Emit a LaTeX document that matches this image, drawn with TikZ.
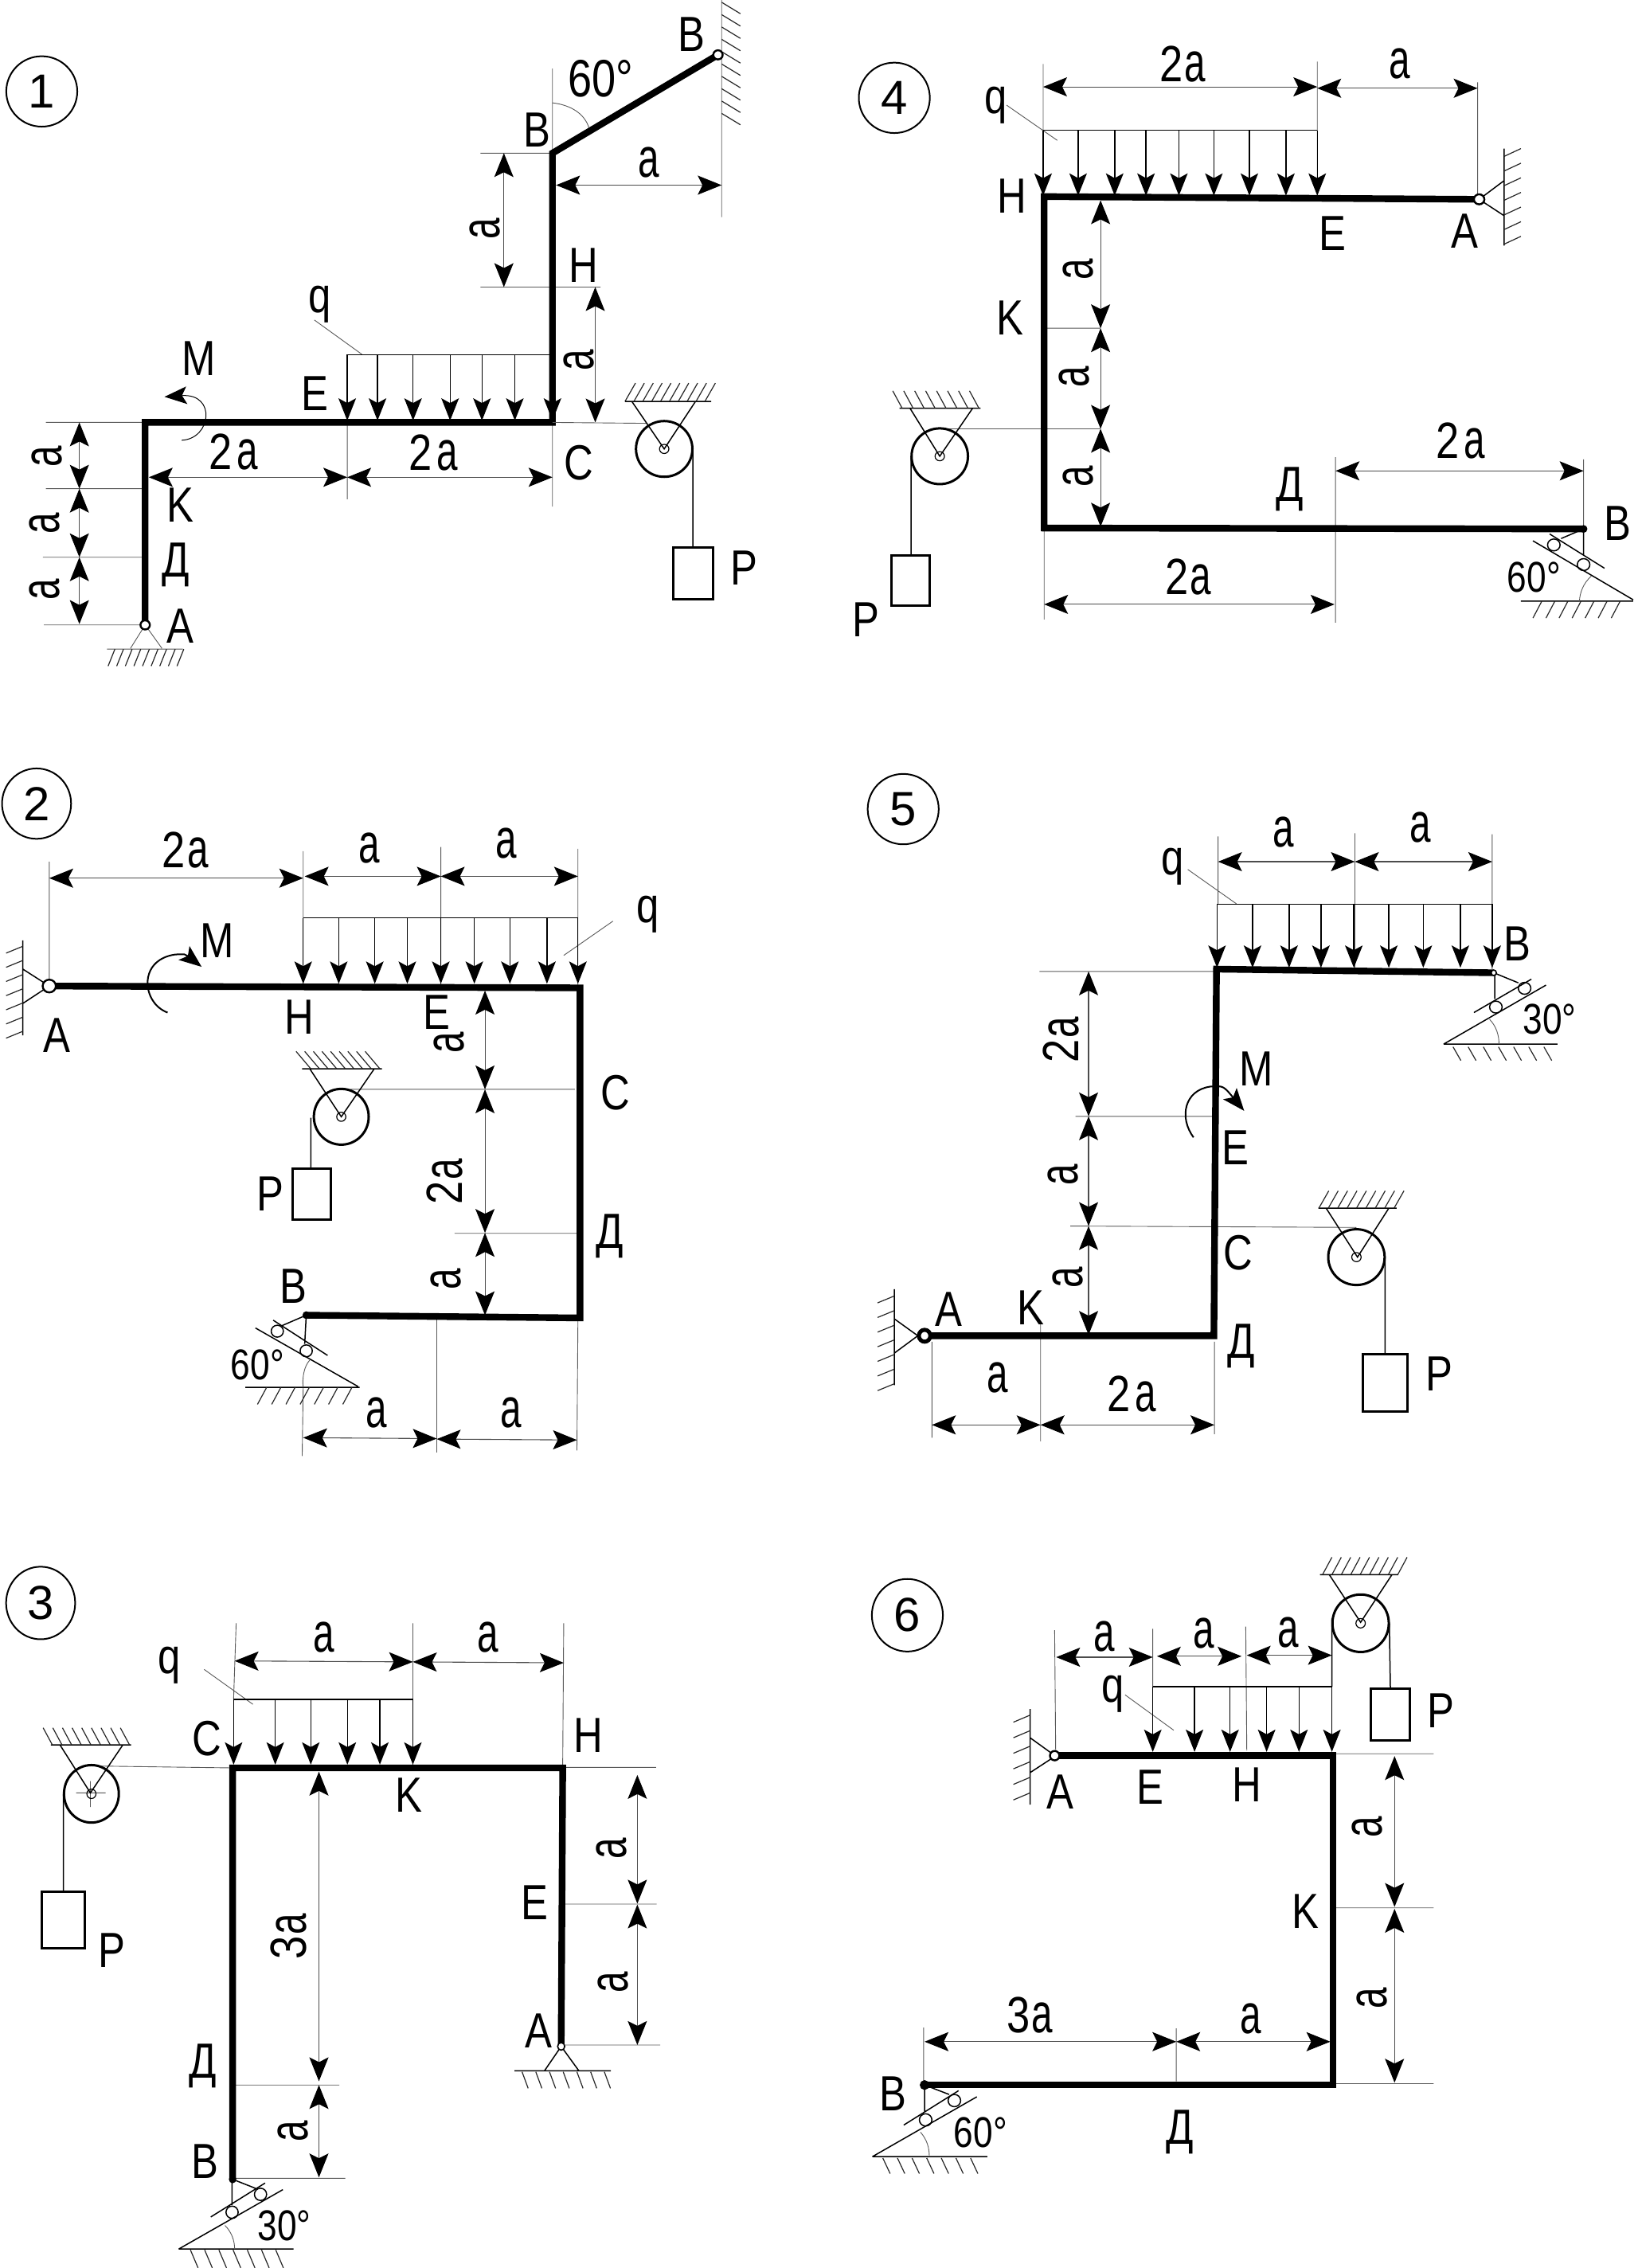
\documentclass[tikz,border=0pt]{standalone}
\usepackage{fontspec}
\usetikzlibrary{arrows.meta}
\setmainfont{Liberation Sans}
\newfontfamily\gost[FakeStretch=0.82]{Liberation Sans}
\newfontfamily\gosta[FakeStretch=0.68]{Liberation Sans}
\newcounter{lbl}
\tikzset{
  beam/.style={line width=4.2pt,black,miter limit=4},
  thinl/.style={line width=0.45pt,black!65},
  hatch/.style={line width=0.6pt,black!85},
  med/.style={line width=0.75pt,black},
  dimm/.style={line width=0.55pt,black!70,{Stealth[length=15pt,width=12pt,inset=3pt,black]}-{Stealth[length=15pt,width=12pt,inset=3pt,black]}},
  loadarr/.style={line width=0.7pt,black,-{Stealth[length=14pt,width=11pt,inset=3pt]}},
  lab/.style={inner sep=0pt,font=\gost\fontsize{31}{31}\selectfont},
  alab/.style={inner sep=0pt,font=\gosta\fontsize{35}{35}\selectfont},
  deg/.style={inner sep=0pt,font=\gost\fontsize{27}{27}\selectfont},
  degb/.style={inner sep=0pt,font=\gost\fontsize{33}{33}\selectfont},
  numc/.style={inner sep=0pt,font=\fontsize{30}{30}\selectfont},
  ringl/.style={line width=1pt,black},
  pulleyl/.style={line width=1.5pt,black},
  boxl/.style={line width=1.5pt,black},
  pinl/.style={line width=1.2pt,black,fill=white},
  pinf/.style={line width=0.8pt,black,fill=black},
}
\newcommand\Lb[3][]{\stepcounter{lbl}\node[lab,#1] (t\arabic{lbl}) at (#2) {#3};}
\newcommand\La[2][]{\stepcounter{lbl}\node[alab,#1] (t\arabic{lbl}) at (#2) {a};}
\newcommand\Lta[3][]{\stepcounter{lbl}\node[alab,#1] (t\arabic{lbl}) at (#2) {{\gost\fontsize{32}{32}\selectfont #3}a};}
\newcommand\Hatch[7]{\foreach \i in {0,...,#7}{\draw[hatch] ({#1+\i*(#5)},{#2+\i*(#6)}) -- ++(#3,#4);}}
\newcommand\Loads[3]{\foreach \xx in {#1}{\draw[loadarr] (\xx,#2) -- (\xx,#3);}}
\newcommand\Pulley[2]{\draw[pulleyl] (#1,#2) ellipse [x radius=54,y radius=61];\draw[line width=0.6pt] (#1,#2) ellipse [x radius=9,y radius=10];}
\newcommand\Numb[3]{\draw[ringl] (#1,#2) ellipse [x radius=68,y radius=77];\stepcounter{lbl}\node[numc] (t\arabic{lbl}) at (#1,#2) {#3};}
\begin{document}
\begin{tikzpicture}[line cap=butt]
\path[use as bounding box,fill=white] (0,0) rectangle (1028pt,-1424pt);
% ---------- panel 1
\begin{scope}[x=0.32787pt,y=-0.28703pt]
\Numb{80}{200}{1}
\draw[thinl] (1058,150)--(1058,335) (920,335)--(1058,335) (920,628)--(1150,628) (1382,0)--(1382,475)
  (602,700)--(693,775) (1058,924)--(1058,1108) (665,924)--(665,1092)
  (88,924)--(278,924) (88,1069)--(278,1069) (82,1219)--(278,1219) (84,1367)--(278,1367)
  (278,1367)--(250,1418) (278,1367)--(310,1418) (205,1420)--(350,1420);
\Hatch{1382}{5}{36}{25}{0}{27}{9}
\Hatch{207}{1457}{13}{-37}{16.5}{0}{8}
\draw[thinl] (1058,225) .. controls (1095,230) and (1120,250) .. (1128,280);
\draw[beam] (278,1367)--(278,924)--(1058,924)--(1058,335)--(1375,120);
\draw[pinl] (278,1367) ellipse [x radius=9,y radius=10];
\draw[pinl] (1375,120) ellipse [x radius=9,y radius=10];
\draw[dimm] (965,335)--(965,628);
\draw[dimm] (1065,405)--(1382,405);
\draw[dimm] (1140,628)--(1140,924);
\draw[dimm] (285,1044)--(665,1044);
\draw[dimm] (665,1044)--(1058,1044);
\draw[dimm] (152,924)--(152,1069);
\draw[dimm] (152,1069)--(152,1219);
\draw[dimm] (152,1219)--(152,1365);
\draw[med] (665,776)--(1058,776);
\Loads{665,723,791,862,923,986,1058}{776}{920}
\draw[line width=0.5pt,black,-{Stealth[length=14pt,width=11pt,inset=3pt]}] (348,963) .. controls (405,960) and (415,860) .. (315,868);
\draw[thinl] (1058,924)--(1240,926);
\Pulley{1272}{982}
\draw[med] (1197,878)--(1362,878) (1210,878)--(1272,982)--(1332,878) (1327,982)--(1327,1197);
\Hatch{1197}{878}{20}{-40}{17}{0}{9}
\draw[boxl] (1290,1197) rectangle (1365,1310);
\Lb{1325,75}{B}
\stepcounter{lbl}\node[degb] (t\arabic{lbl}) at (1150,172) {60°};
\Lb{1028,285}{B}\La{1243,355}\La[rotate=90]{928,500}\Lb{1117,580}{H}\Lb{612,665}{q}
\La[rotate=90]{1108,788}\Lb{380,785}{M}\Lb{603,860}{E}\Lta{447,988}{2\kern3pt}\Lta{830,990}{2\kern3pt}\Lb{1108,1012}{C}
\Lb{345,1105}{K}\Lb{337,1235}{Д}\Lb{345,1370}{A}\Lb{1425,1242}{P}
\La[rotate=90]{90,998}\La[rotate=90]{85,1145}\La[rotate=90]{85,1290}
\end{scope}
% ---------- panel 4
\begin{scope}[shift={(514pt,0pt)},x=0.32787pt,y=-0.28703pt]
\Numb{145}{214}{4}
\draw[thinl] (430,140)--(430,285) (955,135)--(955,430) (1262,180)--(1262,430) (360,230)--(457,307)
  (436,718)--(540,718) (232,938)--(540,938) (990,1000)--(990,1362) (1465,1005)--(1465,1157) (432,1155)--(432,1355);
\draw[med] (1313,325)--(1313,537) (1265,436)--(1313,395) (1265,436)--(1313,472);
\Hatch{1313}{342}{32}{-17}{0}{32}{6}
\draw[beam] (1265,436)--(432,430)--(432,1155)--(1465,1157);
\draw[pinl] (1265,436) ellipse [x radius=10,y radius=11];
\draw[dimm] (430,190)--(955,190);
\draw[dimm] (955,193)--(1262,193);
\draw[dimm] (540,438)--(540,718);
\draw[dimm] (540,718)--(540,938);
\draw[dimm] (540,938)--(540,1152);
\draw[dimm] (990,1030)--(1465,1030);
\draw[dimm] (432,1322)--(988,1322);
\draw[med] (430,285)--(955,285);
\Loads{430,497,567,627,690,757,825,895,955}{285}{428}
\Pulley{232}{998}
\draw[med] (155,893)--(310,893) (175,893)--(232,998)--(295,893) (177,998)--(177,1215);
\Hatch{160}{893}{-18}{-38}{21}{0}{7}
\draw[boxl] (140,1215) rectangle (213,1325);
% roller support
\draw[med] (1368,1183)--(1560,1312) (1400,1168)--(1505,1243) (1465,1157)--(1422,1178) (1465,1157)--(1465,1215) (1345,1315)--(1560,1315);
\draw[med] (1408,1192) ellipse [x radius=12,y radius=13];
\draw[med] (1465,1235) ellipse [x radius=12,y radius=13];
\draw[thinl] (1457,1315) .. controls (1458,1295) and (1465,1275) .. (1480,1260);
\Hatch{1385}{1315}{-17}{37}{25}{0}{6}
\draw[pinf] (1465,1157) ellipse [x radius=6,y radius=7];
\Lta{697,140}{2\kern1pt}\La{1113,140}\Lb{340,230}{q}\Lb{370,428}{H}\Lb{985,510}{E}\Lb{1238,505}{A}\Lb{367,695}{K}
\La[rotate=90]{497,590}\La[rotate=90]{490,825}\La[rotate=90]{497,1042}
\Lb{90,1355}{P}\Lb{903,1070}{Д}\Lta{1230,965}{2\kern3pt}\Lta{708,1262}{2\kern1pt}\Lb{1530,1145}{B}
\stepcounter{lbl}\node[deg] (t\arabic{lbl}) at (1370,1262) {60°};
\end{scope}
% ---------- panel 2
\begin{scope}[shift={(0pt,-475pt)},x=0.31888pt,y=-0.28703pt]
\Numb{72}{103}{2}
\draw[thinl] (97,230)--(97,490) (597,207)--(597,500) (868,198)--(868,500) (1138,202)--(1138,500) (1207,360)--(1110,435)
 (690,728)--(1132,728) (895,1043)--(1136,1043) (597,1380)--(595,1530) (860,1230)--(860,1522) (1138,1232)--(1136,1518);
\draw[med] (45,402)--(45,610) (97,502)--(45,465) (97,502)--(45,540);
\Hatch{45}{415}{-33}{15}{0}{31}{6}
\draw[beam] (97,502)--(1142,506)--(1142,1228)--(603,1222);
\draw[pinl] (97,502) ellipse [x radius=13,y radius=14];
\draw[dimm] (97,266)--(597,266);
\draw[dimm] (600,262)--(868,262);
\draw[dimm] (868,262)--(1138,262);
\draw[dimm] (955,512)--(955,728);
\draw[dimm] (955,728)--(955,1042);
\draw[dimm] (955,1042)--(955,1222);
\draw[dimm] (597,1490)--(860,1492);
\draw[dimm] (860,1493)--(1136,1495);
\draw[med] (597,353)--(1138,353);
\Loads{597,667,738,802,868,934,1004,1077,1138}{353}{497}
\draw[line width=1pt,black,-{Stealth[length=14pt,width=11pt,inset=3pt]}] (330,560) .. controls (280,540) and (270,445) .. (345,433) .. controls (365,432) .. (397,460);
\Pulley{672}{788}
\draw[med] (595,683)--(752,683) (610,683)--(672,788)--(737,683) (612,790)--(612,902);
\Hatch{612}{683}{-29}{-38}{17}{0}{8}
\draw[boxl] (576,902) rectangle (652,1013);
\draw[med] (503,1250)--(705,1378) (538,1233)--(645,1310) (603,1222)--(555,1245) (603,1222)--(600,1285) (483,1380)--(708,1380);
\draw[med] (546,1257) ellipse [x radius=12,y radius=13];
\draw[med] (603,1300) ellipse [x radius=12,y radius=13];
\draw[thinl] (597,1380) .. controls (595,1360) and (598,1335) .. (610,1320);
\Hatch{525}{1380}{-18}{37}{28}{0}{6}
\draw[pinf] (603,1222) ellipse [x radius=6,y radius=7];
\Lta{365,205}{2\kern1pt}\La{727,200}\La{997,190}\Lb{1275,345}{q}\Lb{428,402}{M}\Lb{590,570}{H}\Lb{860,560}{E}\Lb{112,610}{A}
\La[rotate=90]{885,625}\Lta[rotate=90]{875,930}{2\kern1pt}\La[rotate=90]{878,1143}
\Lb{1212,735}{C}\Lb{1200,1050}{Д}\Lb{533,957}{P}\Lb{578,1158}{B}\La{742,1435}\La{1007,1435}
\stepcounter{lbl}\node[deg] (t\arabic{lbl}) at (507,1330) {60°};
\end{scope}
% ---------- panel 5
\begin{scope}[shift={(514pt,-475pt)},x=0.32787pt,y=-0.28703pt]
\Numb{162}{115}{5}
\draw[thinl] (425,1240)--(425,1498) (217,1280)--(217,1490) (758,1280)--(758,1482) (423,470)--(760,470) (492,787)--(755,787) (482,1027)--(1030,1030)
 (765,175)--(765,322) (1027,168)--(1027,465) (1290,170)--(1290,465) (707,247)--(800,322);
\draw[med] (145,1165)--(145,1375) (190,1267)--(145,1230) (190,1267)--(145,1305);
\Hatch{145}{1180}{-32}{15}{0}{32}{6}
\draw[beam] (203,1267)--(757,1267)--(762,465)--(1293,473);
\draw[line width=2.5pt,black,fill=white] (203,1267) ellipse [x radius=11,y radius=13];
\draw[dimm] (217,1462)--(425,1462);
\draw[dimm] (425,1462)--(758,1462);
\draw[dimm] (517,470)--(517,787);
\draw[dimm] (517,787)--(517,1027);
\draw[dimm] (517,1027)--(517,1265);
\draw[dimm] (765,230)--(1027,230);
\draw[dimm] (1027,230)--(1290,230);
\draw[line width=1pt,black,-{Stealth[length=14pt,width=11pt,inset=3pt]}] (718,833) .. controls (690,790) and (700,730) .. (750,722) .. controls (775,720) .. (815,775);
\Pulley{1030}{1095}
\draw[med] (957,988)--(1107,988) (972,988)--(1032,1095)--(1092,988) (1085,1095)--(1085,1308);
\Hatch{958}{988}{19}{-38}{18}{0}{8}
\draw[boxl] (1043,1308) rectangle (1127,1433);
\draw[med] (763,323)--(1290,323);
\Loads{763,831,901,962,1025,1092,1158,1229,1290}{323}{462}
\draw[med] (1197,629)--(1393,500) (1255,560)--(1365,487) (1293,473)--(1340,495) (1295,473)--(1295,530) (1197,629)--(1415,629);
\draw[med] (1297,548) ellipse [x radius=12,y radius=13];
\draw[med] (1352,507) ellipse [x radius=12,y radius=13];
\draw[thinl] (1303,629) .. controls (1303,610) and (1298,590) .. (1285,575);
\Hatch{1215}{635}{15}{30}{29}{0}{6}
\draw[pinl,line width=0.8pt] (1293,473) ellipse [x radius=5,y radius=6];
\La{890,165}\La{1153,155}\Lb{678,240}{q}\Lb{1338,410}{B}\Lb{838,683}{M}\Lb{798,855}{E}\Lb{803,1085}{C}\Lb{250,1210}{A}\Lb{407,1205}{K}
\Lb{810,1290}{Д}\Lb{1188,1350}{P}\La{343,1358}\Lta{600,1395}{2\kern3pt}
\Lta[rotate=90]{465,620}{2\kern1pt}\La[rotate=90]{468,915}\La[rotate=90]{478,1140}
\stepcounter{lbl}\node[deg] (t\arabic{lbl}) at (1400,575) {30°};
\end{scope}
% ---------- panel 3
\begin{scope}[shift={(0pt,-960pt)},x=0.31888pt,y=-0.29586pt]
\Numb{80}{157}{3}
\draw[thinl] (465,200)--(460,360) (813,200)--(813,500) (1110,200)--(1108,500) (402,298)--(498,372) (190,503)--(458,507)
 (150,560)--(208,560) (178,535)--(178,590) (460,1180)--(668,1180) (460,1378)--(680,1378) (1110,506)--(1292,506) (1112,796)--(1293,796) (1110,1095)--(1300,1095);
\draw[beam] (1105,1098)--(1108,507)--(458,507)--(458,1380);
\draw[dimm] (462,280)--(813,282);
\draw[dimm] (813,282)--(1110,284);
\draw[dimm] (628,515)--(628,1172);
\draw[dimm] (628,1180)--(628,1376);
\draw[dimm] (1255,522)--(1255,795);
\draw[dimm] (1255,797)--(1255,1095);
\draw[med] (460,362)--(813,362);
\Loads{460,542,612,684,748,813}{362}{500}
\Pulley{180}{562}
\draw[med] (100,458)--(258,458) (118,458)--(178,560)--(242,458) (125,562)--(125,770);
\Hatch{103}{458}{-18}{-36}{19}{0}{8}
\draw[boxl] (83,770) rectangle (167,890);
\draw[med] (1105,1098)--(1072,1150) (1105,1098)--(1140,1150) (1013,1150)--(1203,1150);
\Hatch{1028}{1152}{12}{35}{27}{0}{6}
\draw[pinl,line width=0.8pt] (1105,1098) ellipse [x radius=7,y radius=8];
\draw[med] (352,1528)--(557,1402) (415,1460)--(522,1388) (458,1380)--(505,1400) (457,1380)--(457,1435) (352,1528)--(578,1528);
\draw[med] (457,1450) ellipse [x radius=12,y radius=13];
\draw[med] (513,1412) ellipse [x radius=12,y radius=13];
\draw[thinl] (462,1528) .. controls (462,1510) and (456,1492) .. (443,1478);
\Hatch{375}{1530}{15}{38}{28}{0}{6}
\draw[pinf] (458,1380) ellipse [x radius=6,y radius=7];
\La{637,230}\La{960,230}\Lb{333,290}{q}\Lb{408,445}{C}\Lb{1158,438}{H}\Lb{805,565}{K}\Lb{220,895}{P}
\Lta[rotate=90]{568,865}{3\kern1pt}\La[rotate=90]{577,1278}\Lb{400,1140}{Д}\Lb{403,1342}{B}
\La[rotate=90]{1205,678}\La[rotate=90]{1208,962}\Lb{1053,793}{E}\Lb{1060,1065}{A}
\stepcounter{lbl}\node[deg] (t\arabic{lbl}) at (560,1478) {30°};
\end{scope}
% ---------- panel 6
\begin{scope}[shift={(514pt,-960pt)},x=0.32787pt,y=-0.29586pt]
\Numb{170}{183}{6}
\draw[thinl] (452,215)--(454,470) (640,212)--(640,335) (818,207)--(820,470) (587,352)--(680,427)
 (985,477)--(1178,477) (988,804)--(1178,804) (988,1177)--(1178,1177) (201,1058)--(201,1175) (685,1060)--(685,1172);
\draw[med] (983,190)--(983,335) (405,382)--(405,585) (445,475)--(405,443) (445,488)--(405,517);
\Hatch{405}{395}{-32}{15}{0}{33}{5}
\draw[beam] (452,481)--(985,481)--(985,1180)--(203,1180);
\draw[pinl] (452,481) ellipse [x radius=9,y radius=10];
\draw[dimm] (455,272)--(640,272);
\draw[dimm] (648,270)--(810,270);
\draw[dimm] (820,268)--(983,268);
\draw[dimm] (1103,482)--(1103,802);
\draw[dimm] (1103,806)--(1103,1175);
\draw[dimm] (203,1088)--(685,1088);
\draw[dimm] (685,1088)--(980,1088);
\draw[med] (640,335)--(983,335);
\Loads{640,720,788,858,920,983}{335}{473}
\Pulley{1038}{200}
\draw[med] (960,97)--(1110,97) (978,97)--(1038,198)--(1098,97) (1093,200)--(1095,338);
\Hatch{965}{97}{18}{-37}{18}{0}{8}
\draw[boxl] (1058,338) rectangle (1132,448);
\draw[med] (103,1332)--(303,1205) (163,1265)--(268,1192) (203,1180)--(250,1200) (203,1180)--(203,1238) (103,1332)--(323,1332);
\draw[med] (205,1254) ellipse [x radius=12,y radius=13];
\draw[med] (260,1213) ellipse [x radius=12,y radius=13];
\draw[thinl] (212,1332) .. controls (212,1312) and (207,1295) .. (195,1280);
\Hatch{123}{1335}{14}{33}{28}{0}{6}
\draw[pinf] (203,1180) ellipse [x radius=8,y radius=9];
\La{547,228}\La{737,222}\La{900,220}\Lb{563,350}{q}\Lb{463,558}{A}\Lb{635,548}{E}\Lb{820,542}{H}\Lb{1192,385}{P}\Lb{932,812}{K}
\La[rotate=90]{1050,632}\La[rotate=90]{1060,995}\Lta{405,1032}{3\kern1pt}\La{827,1040}\Lb{692,1280}{Д}\Lb{143,1198}{B}
\stepcounter{lbl}\node[deg] (t\arabic{lbl}) at (310,1280) {60°};
\end{scope}
\end{tikzpicture}
\end{document}
